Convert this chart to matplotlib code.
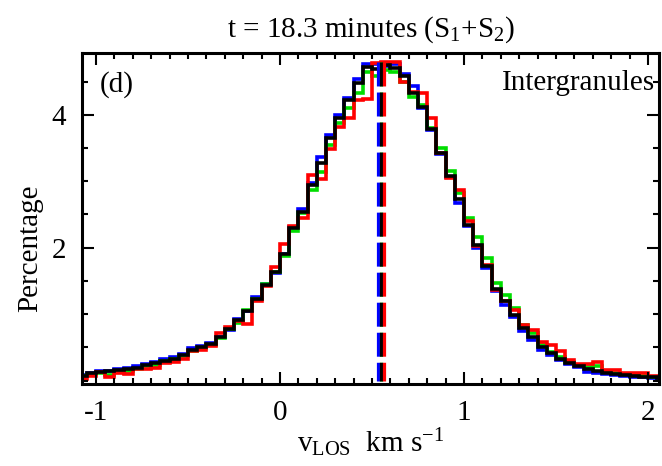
import numpy as np
import matplotlib
matplotlib.use("Agg")
from matplotlib import pyplot as plt
from matplotlib.ticker import MultipleLocator

plt.rcParams['font.family'] = ['Liberation Serif', 'DejaVu Serif']
plt.rcParams['mathtext.fontset'] = 'custom'
plt.rcParams['mathtext.rm'] = 'Liberation Serif'
plt.rcParams['mathtext.it'] = 'Liberation Serif:italic'

# Data: bin edges (km/s) and percentages for each series
edges = np.round(np.arange(-1.1, 2.1001, 0.05), 3)

black_y = [0.07, 0.11, 0.13, 0.14, 0.16, 0.17, 0.19, 0.23, 0.26, 0.30, 0.33, 0.38, 0.46, 0.50, 0.55, 0.65,
           0.78, 0.91, 1.04, 1.23, 1.44, 1.64, 1.91, 2.30, 2.54, 2.94, 3.27, 3.65, 3.95, 4.22, 4.48, 4.72,
           4.69, 4.75, 4.70, 4.58, 4.33, 4.12, 3.78, 3.43, 3.08, 2.73, 2.34, 2.04, 1.73, 1.38, 1.19, 0.99,
           0.79, 0.65, 0.51, 0.41, 0.32, 0.26, 0.22, 0.17, 0.15, 0.12, 0.10, 0.08, 0.07, 0.06, 0.05, 0.04]
blue_y = [0.08, 0.12, 0.14, 0.15, 0.17, 0.19, 0.22, 0.25, 0.28, 0.33, 0.35, 0.40, 0.49, 0.52, 0.57, 0.66,
          0.76, 0.92, 1.05, 1.25, 1.45, 1.62, 1.91, 2.31, 2.58, 2.97, 3.37, 3.70, 4.00, 4.25, 4.54, 4.77,
          4.76, 4.74, 4.77, 4.61, 4.43, 4.10, 3.77, 3.41, 3.06, 2.67, 2.32, 1.99, 1.69, 1.35, 1.14, 0.95,
          0.75, 0.61, 0.46, 0.39, 0.31, 0.25, 0.20, 0.13, 0.12, 0.10, 0.08, 0.07, 0.06, 0.05, 0.04, 0.03]
green_y = [0.07, 0.10, 0.12, 0.08, 0.14, 0.15, 0.18, 0.22, 0.23, 0.29, 0.32, 0.37, 0.45, 0.49, 0.54, 0.64,
           0.77, 0.87, 1.06, 1.23, 1.45, 1.63, 1.87, 2.25, 2.52, 2.87, 3.14, 3.54, 3.87, 4.10, 4.33, 4.64,
           4.58, 4.67, 4.64, 4.50, 4.27, 4.15, 3.80, 3.50, 3.15, 2.82, 2.44, 2.16, 1.84, 1.47, 1.29, 1.09,
           0.84, 0.72, 0.53, 0.43, 0.36, 0.28, 0.23, 0.20, 0.22, 0.15, 0.12, 0.10, 0.08, 0.07, 0.06, 0.05]
red_y = [0.03, 0.07, 0.13, 0.05, 0.11, 0.10, 0.17, 0.18, 0.19, 0.27, 0.28, 0.33, 0.45, 0.46, 0.52, 0.71,
         0.81, 0.89, 0.85, 1.19, 1.43, 1.71, 2.05, 2.33, 2.44, 3.09, 3.03, 3.48, 3.82, 3.95, 4.22, 4.24,
         4.78, 4.80, 4.80, 4.50, 4.35, 4.33, 3.95, 3.43, 3.05, 2.87, 2.40, 2.03, 1.74, 1.36, 1.19, 1.06,
         0.84, 0.76, 0.58, 0.53, 0.45, 0.31, 0.25, 0.25, 0.28, 0.16, 0.16, 0.11, 0.12, 0.12, 0.07, 0.06]

# mean velocities (dashed lines)
means = {'blue': 0.535, 'green': 0.55, 'black': 0.547, 'red': 0.563}
dash_top = 4.8

colors = {'blue': '#0000ff', 'green': '#00dd00', 'black': 'black', 'red': '#ff0000'}

fig = plt.figure(figsize=(6.62, 4.66), dpi=100)
ax = fig.add_axes([0.1246, 0.1770, 0.8710, 0.7093])

lw = 2.6
ax.stairs(blue_y, edges, color=colors['blue'], lw=lw)
ax.stairs(green_y, edges, color=colors['green'], lw=lw)
ax.stairs(red_y, edges, color=colors['red'], lw=lw)
ax.stairs(black_y, edges, color=colors['black'], lw=lw)

for c in ['blue', 'green', 'black', 'red']:
    ax.plot([means[c], means[c]], [dash_top, 0], color=colors[c], lw=2.3, linestyle=(0, (7.5, 1.9)))

ax.set_xlim(-1.073, 2.06)
ax.set_ylim(-0.045, 4.93)
ax.set_xticks([-1, 0, 1, 2])
ax.set_xticklabels(['-1', '0', '1', '2'])
ax.set_yticks([2, 4])
ax.xaxis.set_minor_locator(MultipleLocator(0.1))
ax.yaxis.set_minor_locator(MultipleLocator(0.5))
ax.tick_params(which='both', direction='in', top=True, right=True, width=1.5, labelsize=21)
ax.tick_params(which='major', length=8.6, pad=12)
ax.tick_params(which='minor', length=4.3)
for s in ax.spines.values():
    s.set_linewidth(2.2)

ax.set_xlabel(r'v$_{\mathrm{LOS}}$  km s$^{-1}$', fontsize=21, labelpad=0)
ax.set_ylabel('Percentage', fontsize=21)
ax.yaxis.set_label_coords(-0.068, 0.41)
ax.set_title(r't = 18.3 minutes (S$_1$+S$_2$)', fontsize=21, pad=12)

ax.text(0.03, 0.905, '(d)', transform=ax.transAxes, fontsize=21, va='center', ha='left')
ax.text(0.993, 0.91, 'Intergranules', transform=ax.transAxes, fontsize=21, va='center', ha='right')

fig.savefig('out.png', dpi=100)
